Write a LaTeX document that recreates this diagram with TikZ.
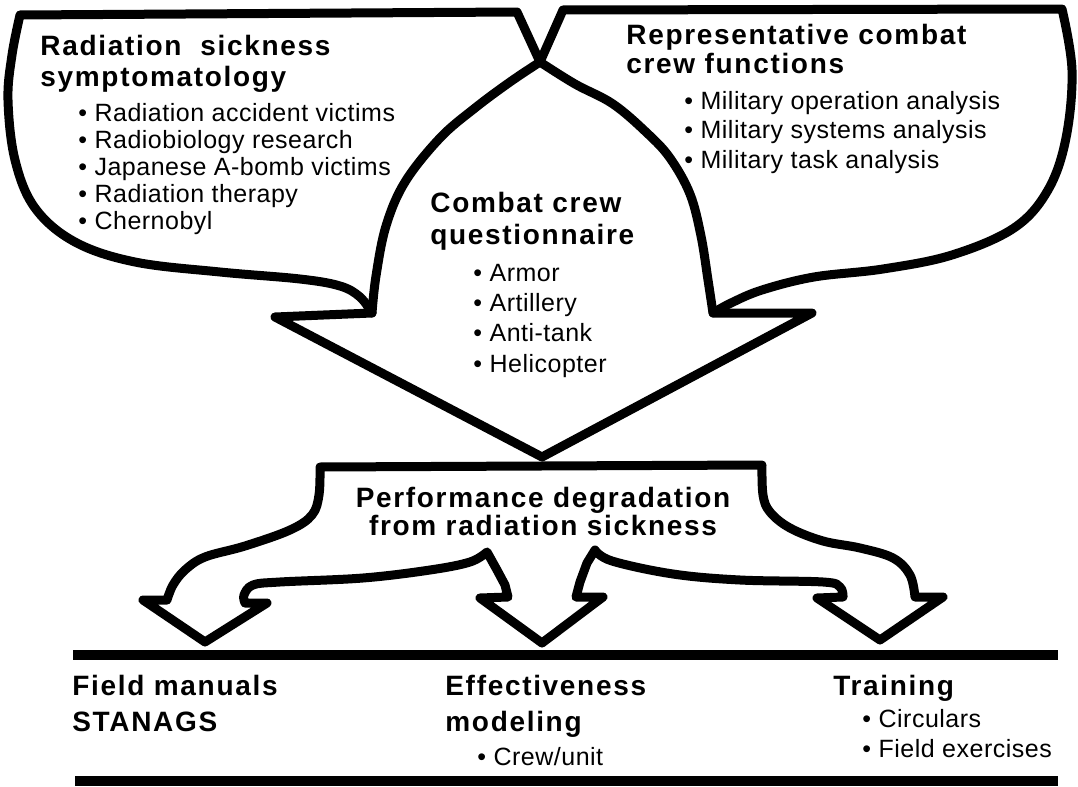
\documentclass[tikz,border=0pt]{standalone}
\usepackage{fontspec}
\setmainfont{Liberation Sans}
\newfontfamily\headfont{Liberation Sans}[LetterSpace=6]
\newfontfamily\itemfont{Liberation Sans}[LetterSpace=2]
\usepackage{tikz}

\begin{document}
\begin{tikzpicture}[x=0.5pt, y=-0.5pt,
  outline/.style={line width=4.5pt, line join=round, line cap=round},
  rule/.style={line width=5pt},
  head/.style={font=\headfont\bfseries\fontsize{14}{#1}\selectfont, align=left, inner sep=0pt, anchor=base west},
  head/.default=15.5,
  items/.style={font=\itemfont\fontsize{12.5}{#1}\selectfont, align=left, inner sep=0pt, anchor=base west},
  items/.default=13.5]
  \useasboundingbox (0,0) rectangle (1078,787);

  \draw[outline] (275,317) -- (372,313)
    -- plot[smooth, tension=0.6] coordinates {(372,313) (360,297) (340,286) (300,279) (220,272) (135,262) (75,242) (35,208) (15,160) (8,100) (12,55) (20,15)}
    -- (517,12) -- (540,62)
    -- plot[smooth, tension=0.6] coordinates {(540,62) (575,84) (613,104) (647,133) (670,158) (690,194) (701,236) (708,280) (713,313)}
    -- (812,313) -- (542,457) -- cycle;
  \draw[outline] plot[smooth, tension=0.6] coordinates {(372,313) (376,276) (386,226) (405,182) (440,138) (475,108) (510,82) (540,62)}
    -- (563,10) -- (1062,9)
    -- plot[smooth, tension=0.6] coordinates {(1062,9) (1072,70) (1066,138) (1048,190) (1014,228) (952,255) (883,269) (814,277) (762,290) (731,303) (713,313)};

  \draw[outline] (320,467) -- (762,465)
    -- plot[smooth, tension=0.6] coordinates {(762,465) (763,495) (770,512) (790,528) (823,541) (860,548) (893,558) (910,575) (915,597)}
    -- (943,597) -- (880,640) -- (817,598) -- (843,597)
    -- plot[smooth, tension=0.6] coordinates {(843,597) (840,587) (823,582) (740,580) (673,574) (612,561) (595,550)}
    -- (587,563) -- (580,582) -- (576,597) -- (603,597) -- (542,643) -- (480,598) -- (508,597) -- (505,585) -- (497,570) -- (487,552)
    -- plot[smooth, tension=0.6] coordinates {(487,552) (470,562) (430,570) (363,578) (280,582) (253,585) (244,595) (245,603)}
    -- (267,603) -- (205,642) -- (143,600) -- (167,600)
    -- plot[smooth, tension=0.6] coordinates {(167,600) (173,585) (185,570) (205,557) (245,546) (290,530) (312,515) (319,495) (320,467)}
    -- cycle;

  \draw[rule] (73,655) -- (1058,655);
  \draw[rule] (75,781) -- (1058,781);

  \node[head] (symptoms) at (40,86) {Radiation\ \ sickness\\symptomatology};
  \node[items=13.5] (sources) at (78,229) {\textbullet\ Radiation accident victims\\\textbullet\ Radiobiology research\\\textbullet\ Japanese A-bomb victims\\\textbullet\ Radiation therapy\\\textbullet\ Chernobyl};
  \node[head=14.5] (functions) at (626,74) {Representative combat\\crew functions};
  \node[items=14.75] (analyses) at (684,168) {\textbullet\ Military operation analysis\\\textbullet\ Military systems analysis\\\textbullet\ Military task analysis};
  \node[head=16] (questionnaire) at (430,244) {Combat crew\\questionnaire};
  \node[items=15.15] (crews) at (473,372) {\textbullet\ Armor\\\textbullet\ Artillery\\\textbullet\ Anti-tank\\\textbullet\ Helicopter};
  \node[head=14, align=center, anchor=base] (degradation) at (543,535) {Performance degradation\\from radiation sickness};
  \node[head=18] (manuals) at (72,731) {Field manuals\\STANAGS};
  \node[head=18] (modeling) at (445,731) {Effectiveness\\modeling};
  \node[items] (unit) at (477,765) {\textbullet\ Crew/unit};
  \node[head] (training) at (833,695) {Training};
  \node[items=15] (courses) at (862,757) {\textbullet\ Circulars\\\textbullet\ Field exercises};
\end{tikzpicture}
\end{document}
